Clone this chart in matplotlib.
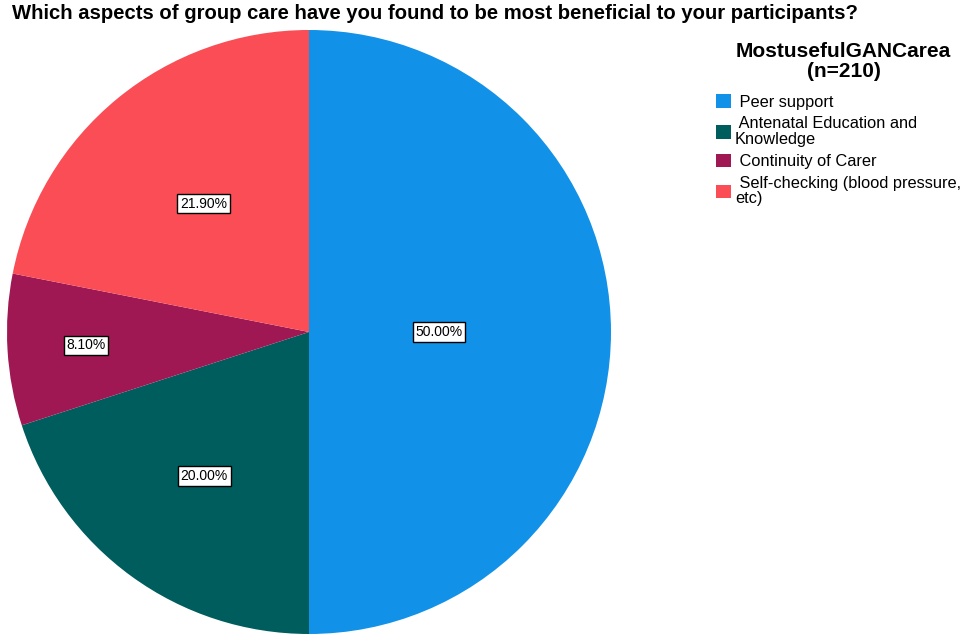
import numpy as np
import matplotlib.pyplot as plt
from matplotlib.patches import Patch

plt.rcParams["font.family"] = ["Liberation Sans", "DejaVu Sans"]

# Share of respondents per most useful group antenatal care area
categories = [
    " Peer support",
    " Antenatal Education and\nKnowledge",
    " Continuity of Carer",
    " Self-checking (blood pressure,\netc)",
]
percent = [50.00, 20.00, 8.10, 21.90]
colors = ["#1192e8", "#005d5d", "#9f1853", "#fa4d56"]
n_total = 210

# how far out each percentage box sits along its slice
label_radius = [0.43, 0.59, 0.74, 0.55]

fig = plt.figure(figsize=(9.72, 6.34), dpi=100)
ax = fig.add_axes([0.0072, 0.0, 0.6214, 0.9527])

wedges, _ = ax.pie(
    percent,
    colors=colors,
    startangle=90,
    counterclock=False,
    wedgeprops={"linewidth": 0},
)
ax.set_xlim(-1, 1)
ax.set_ylim(-1, 1)
ax.set_aspect("auto")

for w, p, r in zip(wedges, percent, label_radius):
    mid = np.deg2rad((w.theta1 + w.theta2) / 2)
    ax.text(
        r * np.cos(mid),
        r * np.sin(mid),
        "{:.2f}%".format(p),
        ha="center",
        va="center",
        fontsize=10,
        bbox=dict(boxstyle="square,pad=0.2", fc="white", ec="black", lw=1),
    )

fig.text(
    0.012,
    0.978,
    "Which aspects of group care have you found to be most beneficial to your participants?",
    fontsize=14.6,
    fontweight="bold",
    va="center",
    ha="left",
)

fig.text(
    0.868,
    0.903,
    "MostusefulGANCarea\n(n={})".format(n_total),
    fontsize=15,
    fontweight="bold",
    ha="center",
    va="center",
    linespacing=1.05,
)

handles = [Patch(facecolor=c, edgecolor="none") for c in colors]
leg = fig.legend(
    handles,
    categories,
    loc="upper left",
    bbox_to_anchor=(0.730, 0.862),
    frameon=False,
    fontsize=11.8,
    handlelength=0.9,
    handleheight=0.9,
    handletextpad=0.25,
    labelspacing=0.42,
    borderaxespad=0,
)
for t in leg.get_texts():
    t.set_linespacing(1.02)

plt.savefig("out.png", dpi=100)
